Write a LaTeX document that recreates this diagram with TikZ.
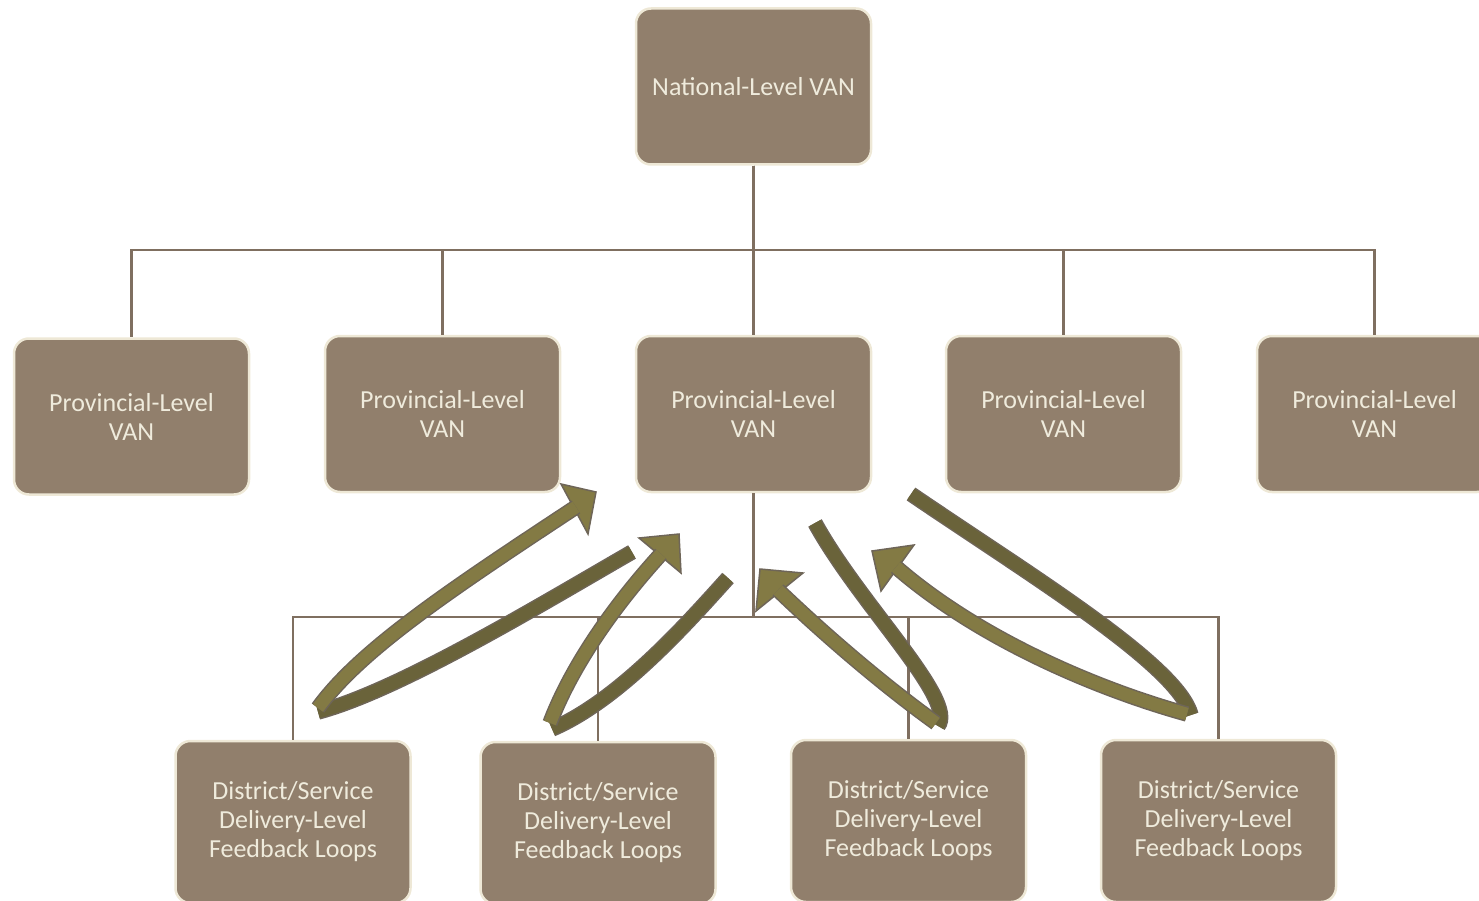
\documentclass[tikz,border=0pt]{standalone}
\usepackage{fontspec}
\setmainfont{Carlito}
\definecolor{boxfill}{HTML}{917F6C}
\definecolor{boxrim}{HTML}{EEE8D6}
\definecolor{boxtext}{HTML}{EFEBDC}
\definecolor{linkline}{HTML}{7F6F60}
\definecolor{loopedge}{HTML}{6E6558}
\definecolor{looplight}{HTML}{837A44}
\definecolor{loopdark}{HTML}{6A633A}

\tikzset{
  van/.style={draw=boxrim, line width=2.5pt, fill=boxfill, rounded corners=15pt,
    text=boxtext, align=center, minimum width=235pt, minimum height=156pt,
    inner sep=0pt, font=\fontsize{26}{29}\selectfont},
  link/.style={draw=linkline, line width=2.5pt},
  darkband/.style={draw=loopdark, line width=12.5pt, preaction={draw=loopedge, line width=15.5pt}},
  lightband/.style={draw=looplight, line width=12.5pt, preaction={draw=loopedge, line width=15.5pt}},
  loophead/.style={fill=looplight, draw=loopedge, line width=1.5pt, line join=miter}
}

\begin{document}
\begin{tikzpicture}[x=1pt,y=-1pt]
\useasboundingbox (0,0) rectangle (1479,901);

% National and provincial VANs
\node[van] (nat) at (753.5,86.5) {National-Level VAN};
\node[van] (p1) at (131.5,416.5) {Provincial-Level\\VAN};
\foreach \n/\x in {2/442.5,3/753.5,4/1063.5,5/1374.5}
  \node[van] (p\n) at (\x,414) {Provincial-Level\\VAN};

% District level boxes
\foreach \n/\x/\y in {1/293/822,2/598/823,3/908.5/821,4/1218.5/821}
  \node[van, minimum height=162pt] (d\n) at (\x,\y) {District/Service\\Delivery-Level\\Feedback Loops};

% Tree lines through the two buses
\coordinate (topbus) at (0,250);
\coordinate (lowbus) at (0,617);
\foreach \n in {1,...,5}
  \draw[link] (nat.south) -- (nat.south |- topbus) -| (p\n.north);
\foreach \n in {1,...,4}
  \draw[link] (p3.south) -- (p3.south |- lowbus) -| (d\n.north);

% Feedback loops, tail down to the turn and back up to the head
\filldraw[loophead] (561,484) -- (596,492) -- (588,534) -- cycle;
\draw[darkband] (632,552) .. controls (540,605) and (400,690) .. (318,712);
\draw[lightband] (318,708) .. controls (360,650) and (450,590) .. (576,507);

\filldraw[loophead] (639,538) -- (679,534) -- (681,573) -- cycle;
\draw[darkband] (728,578) .. controls (690,620) and (620,700) .. (552,729);
\draw[lightband] (550,723) .. controls (570,670) and (610,610) .. (661,554);

\filldraw[loophead] (914,545) -- (872,551) -- (881,591) -- cycle;
\draw[darkband] (911,494) .. controls (1030,575) and (1178,665) .. (1191,715);
\draw[lightband] (1187,714) .. controls (1100,690) and (980,640) .. (896,567);

\filldraw[loophead] (803,573) -- (760,569) -- (756,611) -- cycle;
\draw[darkband] (815,523) .. controls (860,605) and (958,700) .. (938,726);
\draw[lightband] (936,723) .. controls (890,690) and (830,640) .. (778,590);

\end{tikzpicture}
\end{document}
